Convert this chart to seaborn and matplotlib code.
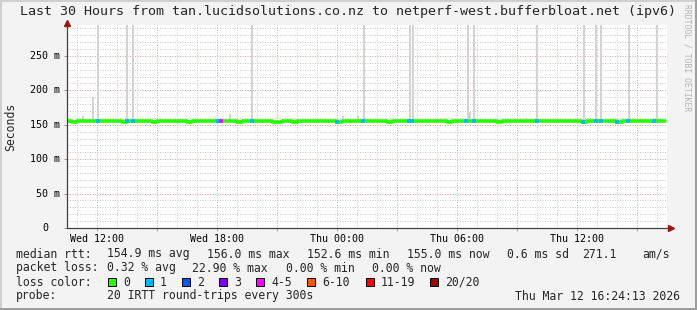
import numpy as np
import pandas as pd
import matplotlib
matplotlib.use("Agg")
import matplotlib.pyplot as plt
import matplotlib.dates as mdates
import matplotlib.transforms as mtransforms
from matplotlib.ticker import MultipleLocator, FuncFormatter
from matplotlib.patches import Rectangle
import seaborn as sns

# ---------------- data ----------------
title = "Last 30 Hours from tan.lucidsolutions.co.nz to netperf-west.bufferbloat.net (ipv6)"
start_time = "2026-03-11 10:28"
end_time = "2026-03-12 16:28"
now_time = "2026-03-12 16:24"
bin_minutes = 15

# median rtt in ms, one value per 15-minute bin starting at start_time
median_ms = [
    155.3, 154.6, 155.1, 155.4, 154.9, 155.6, 155.2, 154.8, 155.0, 155.5, 155.1, 154.7,
    155.2, 155.6, 154.9, 155.0, 155.3, 154.6, 155.4, 155.1, 154.8, 155.2, 155.5, 155.0,
    154.7, 155.3, 155.1, 154.9, 155.6, 155.2, 155.0, 154.8, 155.4, 155.1, 154.6, 155.2,
    155.5, 155.0, 154.8, 155.3, 155.1, 154.4, 154.1, 154.9, 155.2, 154.7, 155.0, 155.3,
    154.9, 155.4, 155.1, 154.8, 155.2, 155.0, 154.6, 155.3, 155.5, 154.9, 155.1, 155.2,
    154.8, 155.0, 155.4, 155.1, 154.7, 155.2, 155.6, 155.0, 154.9, 155.3, 155.1, 154.8,
    155.2, 154.9, 155.5, 155.0, 154.6, 155.3, 155.1, 154.8, 155.4, 155.2, 154.9, 155.0,
    155.3, 155.1, 154.7, 155.2, 155.5, 154.9, 155.0, 155.4, 155.1, 154.8, 155.2, 155.6,
    155.0, 154.8, 155.3, 155.1, 154.9, 155.4, 155.2, 154.7, 155.0, 155.5, 155.1, 154.9,
    155.2, 155.0, 154.6, 155.3, 155.1, 154.9, 155.4, 155.0, 154.8, 155.2, 155.3, 155.0,
]

# smoke spikes (max rtt of a round) and their height in ms
spike_times = [
    "2026-03-11 11:18", "2026-03-11 11:48", "2026-03-11 12:03", "2026-03-11 13:30",
    "2026-03-11 13:48", "2026-03-11 18:39", "2026-03-11 19:45", "2026-03-12 00:18",
    "2026-03-12 01:03", "2026-03-12 01:21", "2026-03-12 03:39", "2026-03-12 03:48",
    "2026-03-12 06:33", "2026-03-12 06:39", "2026-03-12 06:51", "2026-03-12 09:27",
    "2026-03-12 10:00", "2026-03-12 12:21", "2026-03-12 12:57", "2026-03-12 13:12",
    "2026-03-12 14:36", "2026-03-12 16:00",
]
spike_top_ms = [163, 190, 400, 400, 400, 166, 400, 163, 163, 400, 400, 400,
                400, 168, 400, 160, 400, 400, 400, 400, 400, 400]

# rounds with lost packets (count of 20)
loss_times = [
    "2026-03-11 12:03", "2026-03-11 13:30", "2026-03-11 13:48", "2026-03-11 18:03",
    "2026-03-11 18:12", "2026-03-11 19:45", "2026-03-11 23:59", "2026-03-12 01:18",
    "2026-03-12 03:36", "2026-03-12 03:45", "2026-03-12 06:27", "2026-03-12 06:51",
    "2026-03-12 10:00", "2026-03-12 12:18", "2026-03-12 12:57", "2026-03-12 13:12",
    "2026-03-12 14:00", "2026-03-12 14:33", "2026-03-12 15:51",
]
loss_counts = [1, 1, 1, 1, 4, 1, 1, 1, 1, 1, 1, 1, 1, 1, 1, 1, 1, 1, 1]

loss_labels = ["0", "1", "2", "3", "4-5", "6-10", "11-19", "20/20"]
loss_colors = ["#26ff00", "#00b8ff", "#0059ff", "#7e00ff", "#ff00ff", "#ff5500", "#ff0000", "#a10000"]
loss_upper = [0, 1, 2, 3, 5, 10, 19, 20]

y_ticks = [0, 50, 100, 150, 200, 250]
y_tick_labels = ["0", "50 m", "100 m", "150 m", "200 m", "250 m"]
y_max = 295

rtt_items = ["median rtt:", "154.9 ms avg", "156.0 ms max", "152.6 ms min",
             "155.0 ms now", "0.6 ms sd", "271.1", "am/s"]
loss_items = ["packet loss:", "0.32 % avg", "22.90 % max", "0.00 % min", "0.00 % now"]
probe_items = ["probe:", "20 IRTT round-trips every 300s"]
stamp = "Thu Mar 12 16:24:13 2026"

# ---------------- figure ----------------
W, H = 697, 310
MONO = ["DejaVu Sans Mono"]
sns.set_style("white")
plt.rcParams["font.family"] = MONO
plt.rcParams["axes.unicode_minus"] = False

fig = plt.figure(figsize=(W / 100, H / 100), dpi=100, facecolor="#f3f3f3")
AX_L, AX_R, AX_T, AX_B = 66.5, 666.5, 25, 228
ax = fig.add_axes([AX_L / W, (H - AX_B) / H, (AX_R - AX_L) / W, (AX_B - AX_T) / H])
ax.set_facecolor("white")

t0 = pd.Timestamp(start_time)
t1 = pd.Timestamp(end_time)
tnow = pd.Timestamp(now_time)
med = np.array(median_ms)
times = t0 + pd.to_timedelta(np.arange(len(med)) * bin_minutes, unit="min")

def med_at(ts):
    i = int((ts - t0) / pd.Timedelta(minutes=bin_minutes))
    return med[min(max(i, 0), len(med) - 1)]

# grid
ax.xaxis.set_major_locator(mdates.HourLocator(byhour=range(0, 24, 3)))
ax.xaxis.set_minor_locator(mdates.HourLocator(interval=1))
ax.yaxis.set_major_locator(MultipleLocator(50))
ax.yaxis.set_minor_locator(MultipleLocator(10))
ax.grid(which="minor", color="#cccccc", linestyle=(0, (1, 1.5)), linewidth=0.72, zorder=0)
ax.grid(which="major", color="#f0a0a0", linestyle=(0, (1, 1.5)), linewidth=0.72, zorder=0)
ax.set_axisbelow(True)

# smoke spikes
sp_t = pd.to_datetime(spike_times)
sp_base = np.array([med_at(t) for t in sp_t])
ax.bar(sp_t, np.array(spike_top_ms) - sp_base, bottom=sp_base,
       width=pd.Timedelta(minutes=6) / pd.Timedelta(days=1),
       color="#d3d3d3", linewidth=0, zorder=2)

# median line (loss 0 colour)
df = pd.DataFrame({"time": list(times) + [tnow], "rtt": list(med) + [med[-1]]})
sns.lineplot(data=df, x="time", y="rtt", ax=ax, color=loss_colors[0],
             linewidth=2.6, drawstyle="steps-post", zorder=3)

# loss coloured segments
for ts, n in zip(pd.to_datetime(loss_times), loss_counts):
    ci = next(i for i, u in enumerate(loss_upper) if n <= u)
    ax.hlines(med_at(ts), ts - pd.Timedelta(minutes=6), ts + pd.Timedelta(minutes=6),
              color=loss_colors[ci], linewidth=2.6, zorder=4)

ax.set_xlim(t0, t1)
ax.set_ylim(0, y_max)
ax.set_xlabel("")
ax.set_ylabel("")

# x tick labels every 6 h
ax.xaxis.set_major_formatter(FuncFormatter(
    lambda v, p: mdates.num2date(v).strftime("%a %H:%M") if mdates.num2date(v).hour % 6 == 0 else ""))
ax.tick_params(axis="x", which="major", length=2, width=0.7, color="#f09090",
               labelsize=7.2, pad=2.5, labelcolor="black")
ax.tick_params(axis="x", which="minor", length=2, width=0.7, color="#c8c8c8")
ax.tick_params(axis="y", which="both", length=2, width=0.7, color="#909090", labelleft=False)
ax.tick_params(axis="both", direction="out", bottom=True, left=True)

# y tick labels (right aligned, monospace)
trans = mtransforms.blended_transform_factory(ax.transAxes, ax.transData)
for v, lab in zip(y_ticks, y_tick_labels):
    xr = 60.5 if lab.endswith("m") else 48.5
    ax.text((xr - AX_L) / (AX_R - AX_L), v, lab, transform=trans, ha="right", va="center",
            fontsize=7.2, color="black")

# axes lines + arrows
for s in ["top", "right", "left", "bottom"]:
    ax.spines[s].set_visible(False)
axc = "#404040"
arrow_c = "#9c1414"
ax.plot([0, 0], [0, (AX_B - 22) / (AX_B - AX_T)], transform=ax.transAxes,
        color=axc, lw=0.9, clip_on=False, zorder=5)
ax.plot([0, (671 - AX_L) / (AX_R - AX_L)], [0, 0], transform=ax.transAxes,
        color=axc, lw=0.9, clip_on=False, zorder=5)
ax.plot([0], [(AX_B - 23) / (AX_B - AX_T)], marker="^", ms=4.5, color=arrow_c,
        transform=ax.transAxes, clip_on=False, zorder=6)
ax.plot([(671 - AX_L) / (AX_R - AX_L)], [0], marker=">", ms=4.5, color=arrow_c,
        transform=ax.transAxes, clip_on=False, zorder=6)

# texts
def ftext(x, y, s, **kw):
    fig.text(x / W, 1 - y / H, s, **kw)

ftext(W / 2, 12, title, ha="center", va="center", fontsize=9.6)
ftext(10.5, 127, "Seconds", rotation=90, ha="center", va="center", fontsize=8.3)
ftext(687, 58, "RRDTOOL / TOBI OETIKER", rotation=270, ha="center", va="center",
      fontsize=5.8, color="#b4b4b4")

LEG = 8.3
rtt_x = [16, 107, 207, 307, 407, 507, 582, 642]
for x, s in zip(rtt_x, rtt_items):
    ftext(x, 254, s, ha="left", va="center", fontsize=LEG)
loss_x = [16, 107, 192, 286, 372]
for x, s in zip(loss_x, loss_items):
    ftext(x, 268, s, ha="left", va="center", fontsize=LEG)
ftext(16, 282, "loss color:", ha="left", va="center", fontsize=LEG)
box_x = [108, 145, 182, 219, 256, 307, 366, 430]
for x, c, lab in zip(box_x, loss_colors, loss_labels):
    fig.add_artist(Rectangle((x / W, (H - 286) / H), 8 / W, 8 / H, transform=fig.transFigure,
                             facecolor=c, edgecolor="black", linewidth=0.7))
    ftext(x + 15, 282, lab, ha="left", va="center", fontsize=LEG)
probe_x = [16, 107]
for x, s in zip(probe_x, probe_items):
    ftext(x, 296, s, ha="left", va="center", fontsize=LEG)
ftext(680, 296, stamp, ha="right", va="center", fontsize=LEG)

# 3D frame
def frect(x, y, w, h, c):
    fig.add_artist(Rectangle((x / W, (H - y - h) / H), w / W, h / H, transform=fig.transFigure,
                             facecolor=c, edgecolor="none"))
frect(0, 0, W, 2, "#cfcfcf")
frect(0, 0, 2, H, "#cfcfcf")
frect(W - 2, 0, 2, H, "#9e9e9e")
frect(0, H - 2, W, 2, "#9e9e9e")

fig.savefig("out.png", dpi=100, facecolor=fig.get_facecolor())
